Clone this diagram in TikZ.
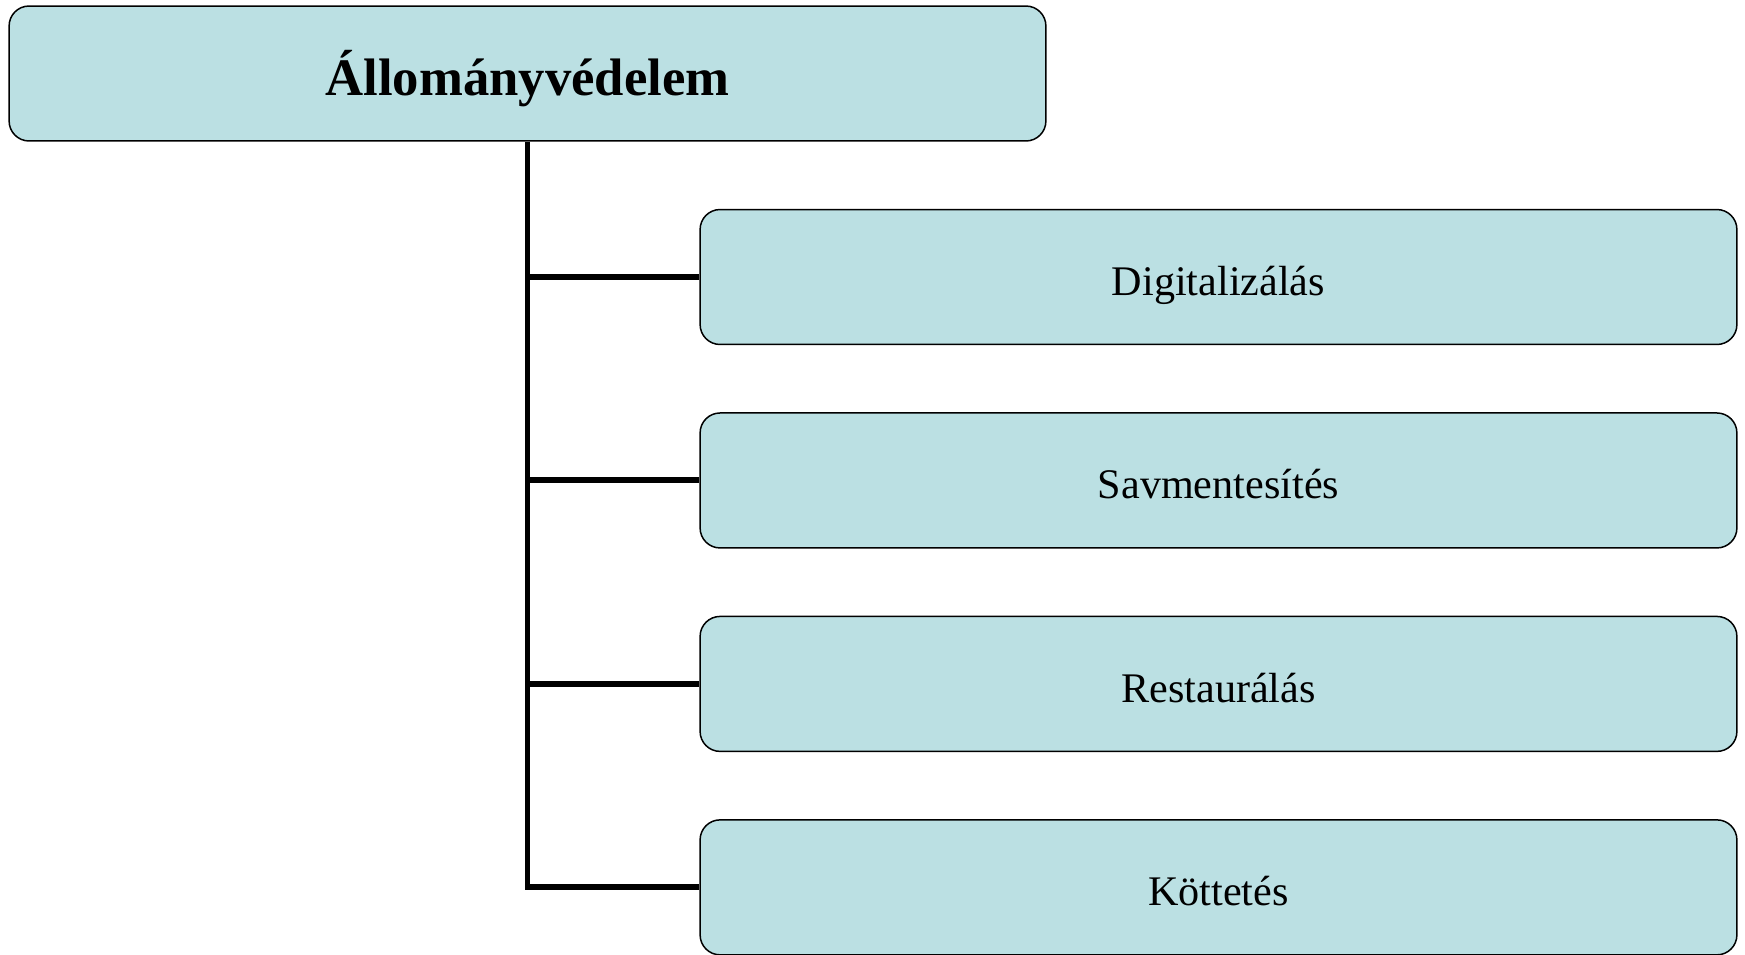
\documentclass[tikz,border=0pt]{standalone}
\usepackage{fontspec}
\setmainfont{Liberation Serif}
\usetikzlibrary{positioning}
\definecolor{boxfill}{RGB}{187,224,227}
\tikzset{
  box/.style={draw=black, line width=0.85pt, fill=boxfill, rounded corners=0.4cm,
    minimum width=20.74cm, minimum height=2.7cm, inner sep=0pt, text depth=0pt},
  rootbox/.style={box, text height=25.5pt, font=\fontsize{30}{36}\selectfont\bfseries},
  childbox/.style={box, text height=21pt, font=\fontsize{24}{29}\selectfont},
  trunk/.style={line width=3.4pt}
}

\begin{document}
\begin{tikzpicture}[x=0.02cm, y=-0.02cm]
    \useasboundingbox (0,0) rectangle (1745,954);
    \node[rootbox] (root) at (527.5,73.5) {Állományvédelem};
    \node[childbox] (dig) at (1218.5,277) {Digitalizálás};
    \node[childbox, below=1.34cm of dig] (sav) {Savmentesítés};
    \node[childbox, below=1.34cm of sav] (res) {Restaurálás};
    \node[childbox, below=1.34cm of res] (kot) {Köttetés};
    % trunk and branches
    \draw[trunk] (root.south) |- (kot.west);
    \foreach \n in {dig,sav,res}
        \draw[trunk] (root.south |- \n.west) -- (\n.west);
\end{tikzpicture}
\end{document}
